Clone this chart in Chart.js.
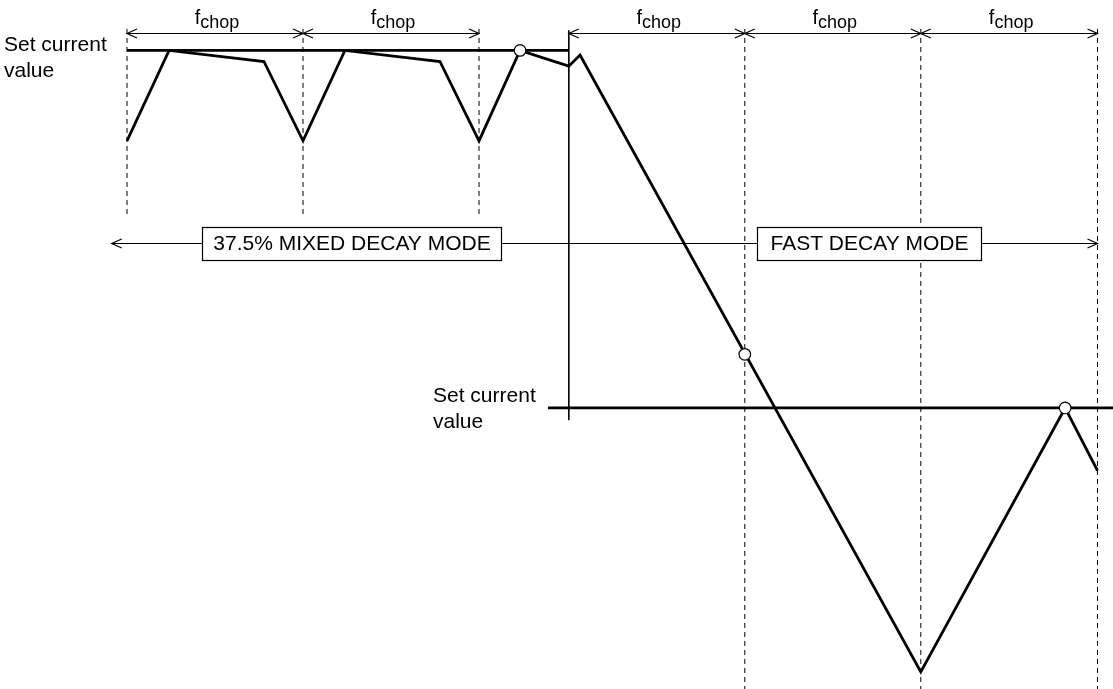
<!DOCTYPE html>
<html>
<head>
<meta charset="utf-8">
<script src="https://cdn.jsdelivr.net/npm/chart.js@4.4.1/dist/chart.umd.min.js"></script>
<style>
  html, body { margin: 0; padding: 0; background: #fff; }
  #wrap { width: 1113px; height: 689px; }
</style>
</head>
<body>
<div id="wrap"><canvas id="chart" width="1113" height="689"></canvas></div>
<script>
// time in chopping periods, current in % of the first set value
const waveT = [0, 0.239, 0.778, 1, 1.238, 1.778, 2, 2.233, 2.51, 2.574, 4.51, 5.33, 5.514];
const waveI = [74.7, 100, 96.9, 74.7, 100, 96.9, 74.7, 100, 95.6, 98.7, -73.8, 0, -17.5];
const markT = [2.233, 3.51, 5.33];
const markI = [100, 15, 0];
const setHigh = 100;
const setLow = 0;
const chopLeft = [0, 1, 2];
const chopRight = [2.51, 3.51, 4.51, 5.514];
const modeLabels = ['37.5% MIXED DECAY MODE', 'FAST DECAY MODE'];
const setLabel = ['Set current', 'value'];

const xMin = -0.7216, xMax = 5.602;
const yMin = -78.6, yMax = 114.1;
const topI = 104.8;   // level of the f_chop arrows
const modeI = 46.15;  // level of the decay mode line

function seg(x1, y1, x2, y2) {
  return [{ x: x1, y: y1 }, { x: x2, y: y2 }];
}

const datasets = [];
datasets.push({
  data: markT.map((t, i) => ({ x: t, y: markI[i] })),
  showLine: false, pointRadius: 5.8, pointBackgroundColor: '#fff',
  pointBorderColor: '#000', pointBorderWidth: 1.2, order: -1
});
chopLeft.forEach(t => datasets.push({
  data: seg(t, 106, t, 53.2), borderColor: '#000', borderWidth: 1, borderDash: [5, 4]
}));
chopRight.slice(1).forEach(t => datasets.push({
  data: seg(t, 106, t, yMin - 2), borderColor: '#000', borderWidth: 1, borderDash: [5, 4]
}));
datasets.push({ data: seg(2.51, 105.6, 2.51, -3.4), borderColor: '#000', borderWidth: 1 });
datasets.push({ data: seg(0, setHigh, 2.51, setHigh), borderColor: '#000', borderWidth: 2.8 });
datasets.push({ data: seg(2.392, setLow, xMax, setLow), borderColor: '#000', borderWidth: 2.8 });
datasets.push({
  data: waveT.map((t, i) => ({ x: t, y: waveI[i] })),
  borderColor: '#000', borderWidth: 2.8, borderJoinStyle: 'miter'
});

function arrowHead(ctx, x, y, dir) {
  ctx.beginPath();
  ctx.moveTo(x - dir * 10, y - 4.5);
  ctx.lineTo(x, y);
  ctx.lineTo(x - dir * 10, y + 4.5);
  ctx.stroke();
}

const FONT = '"Liberation Sans", Arial, sans-serif';

const notes = {
  id: 'notes',
  afterDatasetsDraw(chart) {
    const ctx = chart.ctx;
    const sx = chart.scales.x, sy = chart.scales.y;
    const px = v => sx.getPixelForValue(v);
    const py = v => sy.getPixelForValue(v);
    ctx.save();
    ctx.strokeStyle = '#000';
    ctx.fillStyle = '#000';
    ctx.lineWidth = 1.2;

    // f_chop arrows
    const spans = [];
    for (let i = 0; i < chopLeft.length - 1; i++) spans.push([chopLeft[i], chopLeft[i + 1]]);
    for (let i = 0; i < chopRight.length - 1; i++) spans.push([chopRight[i], chopRight[i + 1]]);
    const ay = Math.round(py(topI)) + 0.5;
    spans.forEach(([a, b]) => {
      const x1 = px(a), x2 = px(b);
      ctx.beginPath();
      ctx.moveTo(x1, ay); ctx.lineTo(x2, ay);
      ctx.stroke();
      arrowHead(ctx, x1, ay, -1);
      arrowHead(ctx, x2, ay, 1);
      const cx = (x1 + x2) / 2;
      ctx.font = '20px ' + FONT;
      const fw = ctx.measureText('f').width;
      ctx.font = '18px ' + FONT;
      const sw = ctx.measureText('chop').width;
      const start = cx + 2 - (fw + sw) / 2;
      ctx.textBaseline = 'alphabetic';
      ctx.textAlign = 'left';
      ctx.font = '20px ' + FONT;
      ctx.fillText('f', start, ay - 10);
      ctx.font = '18px ' + FONT;
      ctx.fillText('chop', start + fw, ay - 6);
    });

    // decay mode line
    const my = Math.round(py(modeI)) + 0.5;
    const mx1 = px(-0.087), mx2 = px(chopRight[3]);
    ctx.beginPath();
    ctx.moveTo(mx1, my); ctx.lineTo(mx2, my);
    ctx.stroke();
    arrowHead(ctx, mx1, my, -1);
    arrowHead(ctx, mx2, my, 1);

    ctx.font = '21px ' + FONT;
    ctx.textBaseline = 'middle';
    ctx.lineWidth = 1.2;
    const boxes = [[px(0.424), px(2.126)], [px(3.577), px(4.852)]];
    boxes.forEach(([bx1, bx2], i) => {
      const x1 = Math.round(bx1) + 0.5, x2 = Math.round(bx2) + 0.5;
      const y1 = Math.round(my - 17) + 0.5;
      ctx.fillStyle = '#fff';
      ctx.fillRect(x1, y1, x2 - x1, 33);
      ctx.strokeRect(x1, y1, x2 - x1, 33);
      ctx.fillStyle = '#000';
      ctx.textAlign = 'center';
      ctx.fillText(modeLabels[i], (x1 + x2) / 2, my + 1);
    });

    // set current labels
    ctx.font = '21px ' + FONT;
    ctx.textAlign = 'left';
    ctx.textBaseline = 'alphabetic';
    ctx.fillText(setLabel[0], 4, py(setHigh) + 1);
    ctx.fillText(setLabel[1], 4, py(setHigh) + 27);
    ctx.fillText(setLabel[0], 433, py(setLow) - 6);
    ctx.fillText(setLabel[1], 433, py(setLow) + 20);
    ctx.restore();
  }
};

new Chart(document.getElementById('chart'), {
  type: 'scatter',
  data: { datasets: datasets.map(d => Object.assign({ showLine: true, pointRadius: 0, fill: false, tension: 0 }, d)) },
  options: {
    responsive: false,
    animation: false,
    events: [],
    layout: { padding: 0, autoPadding: false },
    plugins: { legend: { display: false }, tooltip: { enabled: false } },
    scales: {
      x: { type: 'linear', min: xMin, max: xMax, display: false },
      y: { type: 'linear', min: yMin, max: yMax, display: false }
    }
  },
  plugins: [notes]
});
</script>
</body>
</html>
